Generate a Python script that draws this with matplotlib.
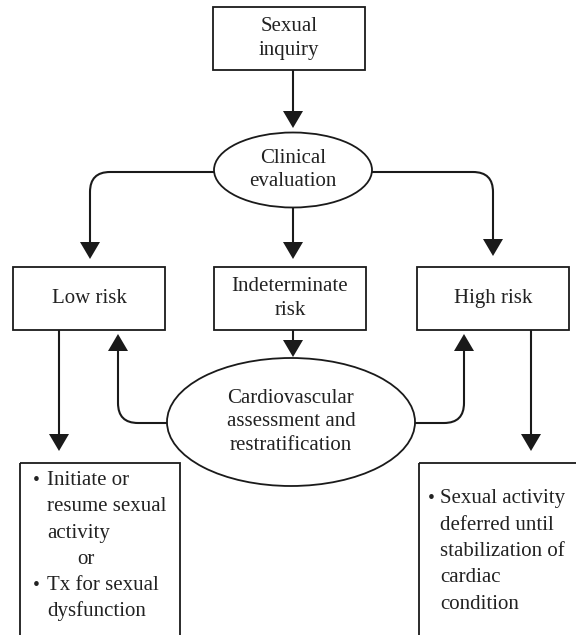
import matplotlib.pyplot as plt
from matplotlib.patches import Rectangle, Ellipse, Polygon, PathPatch
from matplotlib.path import Path
import numpy as np

# node labels
top_label = "Sexual\ninquiry"
eval_label = "Clinical\nevaluation"
risk_labels = ["Low risk", "Indeterminate\nrisk", "High risk"]
assess_label = "Cardiovascular\nassessment and\nrestratification"
low_action = ["Initiate or", "resume sexual", "activity", "or", "Tx for sexual", "dysfunction"]
low_bullets = [True, False, False, None, True, False]
high_action = ["Sexual activity", "deferred until", "stabilization of", "cardiac", "condition"]

plt.rcParams["font.family"] = ["Liberation Serif", "DejaVu Serif"]
FS = 15
LW = 1.5
TXT = "#222222"

fig = plt.figure(figsize=(5.76, 6.35), dpi=100)
ax = fig.add_axes([0, 0, 1, 1])
ax.set_xlim(0, 576)
ax.set_ylim(635, 0)
ax.axis("off")


def box(x0, y0, x1, y1, text=None):
    ax.add_patch(Rectangle((x0, y0), x1 - x0, y1 - y0, fill=False, ec="#1a1a1a", lw=1.3))
    if text:
        ax.text((x0 + x1) / 2, (y0 + y1) / 2, text, ha="center", va="center",
                fontsize=FS, color=TXT, linespacing=1.3)


def ellipse(cx, cy, w, h, text):
    ax.add_patch(Ellipse((cx, cy), w, h, fill=False, ec="#1a1a1a", lw=1.3))
    ax.text(cx, cy, text, ha="center", va="center", fontsize=FS,
            color=TXT, linespacing=1.3)


def arrow(pts, r=20, hl=17, hw=20):
    pts = [np.array(p, float) for p in pts]
    tip = pts[-1]
    d = tip - pts[-2]
    d /= np.hypot(*d)
    end = tip - d * hl
    verts = [pts[0]]
    codes = [Path.MOVETO]
    for i in range(1, len(pts) - 1):
        p, a, b = pts[i], pts[i - 1], pts[i + 1]
        ua = (a - p) / np.hypot(*(a - p))
        ub = (b - p) / np.hypot(*(b - p))
        verts += [p + ua * r, p, p + ub * r]
        codes += [Path.LINETO, Path.CURVE3, Path.CURVE3]
    verts.append(end)
    codes.append(Path.LINETO)
    ax.add_patch(PathPatch(Path(verts, codes), fill=False, ec="#1a1a1a", lw=LW,
                           capstyle="butt", joinstyle="miter"))
    n = np.array([-d[1], d[0]])
    ax.add_patch(Polygon([tip, end + n * hw / 2, end - n * hw / 2],
                         closed=True, fc="#1a1a1a", ec="none"))


# boxes and ellipses
box(213, 7, 365, 70, top_label)
ellipse(293, 170, 158, 75, eval_label)
box(13, 267, 165, 330, risk_labels[0])
box(214, 267, 366, 330, risk_labels[1])
box(417, 267, 569, 330, risk_labels[2])
ellipse(291, 422, 248, 128, assess_label)
box(20, 463, 180, 700)
box(419, 463, 640, 700)

# arrows
arrow([(293, 70), (293, 128)])
arrow([(214, 172), (90, 172), (90, 259)])
arrow([(293, 208), (293, 259)])
arrow([(372, 172), (493, 172), (493, 256)])
arrow([(293, 330), (293, 357)])
arrow([(167, 423), (118, 423), (118, 334)])
arrow([(415, 423), (464, 423), (464, 334)])
arrow([(59, 330), (59, 451)])
arrow([(531, 330), (531, 451)])

# action texts
y = 485
for line, bullet in zip(low_action, low_bullets):
    if bullet is None:
        ax.text(77, y, line, ha="left", va="baseline", fontsize=FS, color=TXT)
    else:
        if bullet:
            ax.text(33, y, "\u2022", ha="left", va="baseline", fontsize=FS - 1, color=TXT)
        ax.text(47, y, line, ha="left", va="baseline", fontsize=FS, color=TXT)
    y += 26.3

y = 503
for i, line in enumerate(high_action):
    if i == 0:
        ax.text(428, y, "\u2022", ha="left", va="baseline", fontsize=FS - 1, color=TXT)
    ax.text(440, y, line, ha="left", va="baseline", fontsize=FS, color=TXT)
    y += 26.5

fig.savefig("out.png", dpi=100)
